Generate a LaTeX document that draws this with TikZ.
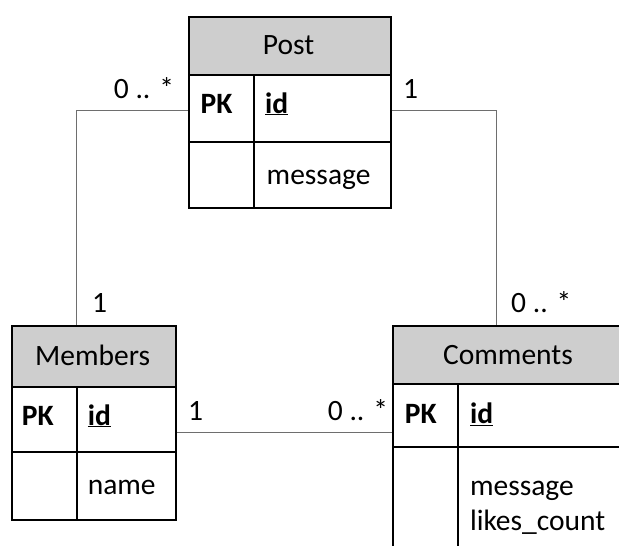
\documentclass[tikz,border=0pt]{standalone}
\usepackage{fontspec}
\setmainfont{Carlito}
\begin{document}
\begin{tikzpicture}[x=1pt,y=-1pt,
  cell/.style={draw=black,line width=2pt,inner sep=0pt,anchor=north west},
  head/.style={cell,fill={rgb,255:red,206;green,206;blue,206}},
  txt/.style={inner sep=0pt,font=\fontsize{29.5}{35}\selectfont},
  conn/.style={draw={rgb,255:red,110;green,110;blue,110},line width=1pt}]
\useasboundingbox (0,0) rectangle (619,546);
\clip (0,0) rectangle (619,546);
% ---------- Post ----------
\node[head,minimum width=202.2pt,minimum height=58pt] (phead) at (187.5,16) {};
\node[cell,minimum width=65.2pt,minimum height=67pt] (pk1) at (187.5,74) {};
\node[cell,minimum width=137pt,minimum height=67pt] (pf1) at (252.7,74) {};
\node[cell,minimum width=65.2pt,minimum height=65.7pt] (pk2) at (187.5,141) {};
\node[cell,minimum width=137pt,minimum height=65.7pt] (pf2) at (252.7,141) {};
\node[txt,anchor=base] (ptitle) at (288.6,54) {Post};
\node[txt,anchor=base west] (ppk) at (200.5,113) {\bfseries PK};
\node[txt,anchor=base west] (pid) at (265,113) {\bfseries\underline{id}};
\node[txt,anchor=base west] (pmsg) at (266.5,184) {message};
% ---------- Members ----------
\node[head,minimum width=164pt,minimum height=61.3pt] (mhead) at (11,324.5) {};
\node[cell,minimum width=65pt,minimum height=65pt] (mk1) at (11,385.8) {};
\node[cell,minimum width=99pt,minimum height=65pt] (mf1) at (76,385.8) {};
\node[cell,minimum width=65pt,minimum height=67.8pt] (mk2) at (11,450.8) {};
\node[cell,minimum width=99pt,minimum height=67.8pt] (mf2) at (76,450.8) {};
\node[txt,anchor=base] (mtitle) at (92.6,365) {Members};
\node[txt,anchor=base west] (mpk) at (21.7,425) {\bfseries PK};
\node[txt,anchor=base west] (mid) at (87.6,425) {\bfseries\underline{id}};
\node[txt,anchor=base west] (mname) at (87.6,494.5) {name};
% ---------- Comments ----------
\node[head,minimum width=232.8pt,minimum height=58pt] (chead) at (391.6,325.3) {};
\node[cell,minimum width=65.2pt,minimum height=63pt] (ck1) at (391.6,383.3) {};
\node[cell,minimum width=167.6pt,minimum height=63pt] (cf1) at (456.8,383.3) {};
\node[cell,minimum width=65.2pt,minimum height=120pt] (ck2) at (391.6,446.3) {};
\node[cell,minimum width=167.6pt,minimum height=120pt] (cf2) at (456.8,446.3) {};
\node[txt,anchor=base] (ctitle) at (508,364.3) {Comments};
\node[txt,anchor=base west] (cpk) at (404.7,423.7) {\bfseries PK};
\node[txt,anchor=base west] (cid) at (469.8,423.7) {\bfseries\underline{id}};
\node[txt,anchor=base west] (cmsg) at (469.8,495) {message};
\node[txt,anchor=base west] (clikes) at (469.8,530) {likes\_count};
% ---------- connectors ----------
\coordinate (ly) at (0,110);
\coordinate (hy) at (0,432.8);
\coordinate (lx) at (76,0);
\coordinate (rx) at (496.6,0);
\draw[conn] (pk1.west |- ly) -| (lx |- mhead.north);
\draw[conn] (pf1.east |- ly) -| (rx |- chead.north);
\draw[conn] (mf1.east |- hy) -- (ck1.west |- hy);
% ---------- multiplicities ----------
\node[txt,anchor=base west] (l1) at (113.7,98) {0 .. *};
\node[txt,anchor=base west] (l2) at (403,98) {1};
\node[txt,anchor=base west] (l3) at (92,312.5) {1};
\node[txt,anchor=base west] (l4) at (511,312.5) {0 .. *};
\node[txt,anchor=base west] (l5) at (188,420) {1};
\node[txt,anchor=base west] (l6) at (327.7,420) {0 .. *};
\end{tikzpicture}
\end{document}
